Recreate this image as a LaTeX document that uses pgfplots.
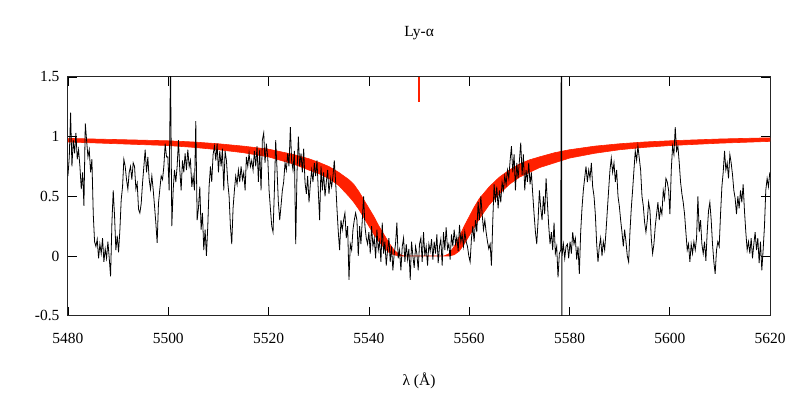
\documentclass[border=0pt]{standalone}
\usepackage{fontspec}
\setmainfont{Liberation Serif}
\usepackage{pgfplots}
\pgfplotsset{compat=1.18}
\definecolor{bandred}{RGB}{255,32,0}

\begin{document}
\begin{tikzpicture}
\begin{axis}[
  name=ax,
  scale only axis, width=703pt, height=239pt,
  xmin=5480, xmax=5620, ymin=-0.5, ymax=1.5,
  xtick={5480,5500,5520,5540,5560,5580,5600,5620},
  xticklabels={5480,5500,5520,5540,5560,5580,5600,5620},
  ytick={-0.5,0,0.5,1,1.5},
  yticklabels={-0.5,0,0.5,1,1.5},
  xtick pos=both, ytick pos=both,
  tick align=inside, major tick length=9pt,
  tick style={black, line width=0.8pt},
  axis line style={black!85, line width=1pt},
  tick label style={font=\fontsize{15.5}{18}\selectfont},
  xticklabel style={yshift=-14pt},
  yticklabel style={xshift=-5pt},
  title={Ly-α},
  title style={at={(0.5,1)}, anchor=center, yshift=38pt, font=\fontsize{15.5}{18}\selectfont},
  xlabel={λ (Å)},
  xlabel style={at={(axis description cs:0.5,0)}, anchor=center, yshift=-65pt, font=\fontsize{15.5}{18}\selectfont},
]
% fitted absorption profile, upper edge then lower edge
\addplot[fill=bandred, draw=bandred, line width=0.6pt] coordinates {
  (5480,0.985)(5490,0.975)(5500,0.965)(5505,0.955)(5510,0.94)(5515,0.92)
  (5520,0.895)(5525,0.85)(5528,0.815)(5530,0.785)(5532,0.75)(5534,0.70)
  (5536,0.64)(5537,0.60)(5538,0.54)(5539,0.47)(5540,0.40)(5541,0.33)
  (5542,0.25)(5543,0.18)(5544,0.11)(5545,0.05)(5546,0.015)(5547,0)
  (5555,0)(5556,0.02)(5557,0.08)(5558,0.16)(5559,0.25)(5560,0.33)
  (5561,0.41)(5562,0.48)(5563,0.53)(5564,0.58)(5566,0.66)(5568,0.72)
  (5570,0.77)(5572,0.805)(5574,0.83)(5577,0.865)(5580,0.89)(5585,0.92)
  (5590,0.94)(5595,0.955)(5600,0.965)(5610,0.98)(5620,0.99)
  (5620,0.96)(5610,0.945)(5600,0.925)(5595,0.91)(5590,0.89)(5585,0.86)
  (5580,0.82)(5577,0.78)(5574,0.74)(5572,0.70)(5570,0.66)(5568,0.60)
  (5566,0.52)(5564,0.43)(5563,0.37)(5562,0.31)(5561,0.24)(5560,0.17)
  (5559,0.10)(5558,0.04)(5557,0.01)(5556,0)(5546,0)(5545,0.01)
  (5544,0.03)(5543,0.07)(5542,0.12)(5541,0.18)(5540,0.25)(5539,0.32)
  (5538,0.39)(5537,0.45)(5536,0.50)(5534,0.59)(5532,0.65)(5530,0.69)
  (5528,0.72)(5525,0.77)(5520,0.83)(5515,0.865)(5510,0.89)(5505,0.91)
  (5500,0.925)(5490,0.94)(5480,0.955)};
% observed spectrum
\addplot[black, line width=0.8pt] coordinates {
(5480.00,0.67)(5480.27,0.83)(5480.53,1.20)(5480.80,0.75)(5481.06,0.97)(5481.33,0.86)(5481.59,1.03)(5481.86,0.81)(5482.12,0.89)(5482.39,0.75)
(5482.66,0.56)(5482.93,0.70)(5483.19,0.42)(5483.46,1.11)(5483.72,0.97)(5483.99,0.83)(5484.25,0.89)(5484.52,0.70)(5484.78,0.81)(5485.05,0.35)
(5485.31,0.12)(5485.58,0.08)(5485.84,0.14)(5486.11,-0.02)(5486.37,0.10)(5486.64,0.02)(5486.90,0.15)(5487.17,-0.05)(5487.43,0.06)(5487.70,-0.02)
(5487.97,0.12)(5488.24,-0.02)(5488.50,-0.17)(5488.77,0.28)(5489.03,0.55)(5489.30,0.33)(5489.56,0.05)(5489.83,0.17)(5490.09,0.03)(5490.36,0.22)
(5490.62,0.47)(5490.89,0.58)(5491.15,0.81)(5491.42,0.75)(5491.68,0.64)(5491.95,0.56)(5492.21,0.70)(5492.48,0.75)(5492.74,0.64)(5493.01,0.78)
(5493.28,0.75)(5493.55,0.56)(5493.81,0.61)(5494.08,0.39)(5494.34,0.36)(5494.61,0.44)(5494.87,0.61)(5495.14,0.75)(5495.40,0.89)(5495.67,0.70)
(5495.93,0.83)(5496.20,0.64)(5496.46,0.56)(5496.73,0.67)(5496.99,0.56)(5497.26,0.42)(5497.52,0.28)(5497.79,0.11)(5498.05,0.44)(5498.32,0.56)
(5498.59,0.67)(5498.86,0.64)(5499.12,0.75)(5499.39,0.94)(5499.65,0.83)(5499.92,0.83)(5500.18,0.55)(5500.45,1.60)(5500.71,0.25)(5500.98,0.55)
(5501.24,0.72)(5501.51,0.62)(5501.77,0.75)(5502.04,0.97)(5502.30,0.72)(5502.57,0.55)(5502.83,0.80)(5503.10,0.70)(5503.36,0.86)(5503.63,0.72)
(5503.90,0.89)(5504.17,0.75)(5504.43,0.80)(5504.70,0.58)(5504.96,0.67)(5505.23,0.55)(5505.49,1.13)(5505.76,0.30)(5506.02,0.40)(5506.29,0.58)
(5506.55,0.22)(5506.82,0.36)(5507.08,0.05)(5507.35,0.22)(5507.61,0.00)(5507.88,0.25)(5508.14,0.58)(5508.41,0.75)(5508.67,0.62)(5508.94,0.85)
(5509.21,0.92)(5509.48,0.80)(5509.74,0.94)(5510.01,0.70)(5510.27,0.88)(5510.54,0.75)(5510.80,0.90)(5511.07,0.55)(5511.33,0.88)(5511.60,0.80)
(5511.86,0.62)(5512.13,0.50)(5512.39,0.25)(5512.66,0.10)(5512.92,0.40)(5513.19,0.55)(5513.45,0.67)(5513.72,0.60)(5513.98,0.72)(5514.25,0.62)
(5514.52,0.75)(5514.79,0.64)(5515.05,0.70)(5515.32,0.55)(5515.58,0.83)(5515.85,0.75)(5516.11,0.86)(5516.38,0.75)(5516.64,0.80)(5516.91,0.72)
(5517.17,0.88)(5517.44,0.75)(5517.70,0.92)(5517.97,0.62)(5518.23,0.89)(5518.50,0.55)(5518.76,0.97)(5519.03,1.03)(5519.29,0.78)(5519.56,0.94)
(5519.83,0.83)(5520.10,0.55)(5520.36,0.40)(5520.63,0.25)(5520.89,0.20)(5521.16,0.55)(5521.42,0.97)(5521.69,0.72)(5521.95,0.45)(5522.22,0.30)
(5522.48,0.42)(5522.75,0.55)(5523.01,0.62)(5523.28,0.78)(5523.54,0.72)(5523.81,0.86)(5524.07,0.75)(5524.34,1.08)(5524.60,0.80)(5524.87,0.72)
(5525.14,0.88)(5525.41,0.10)(5525.67,0.70)(5525.94,1.00)(5526.20,0.75)(5526.47,0.86)(5526.73,0.70)(5527.00,0.90)(5527.26,0.62)(5527.53,0.52)
(5527.79,0.67)(5528.06,0.45)(5528.32,0.60)(5528.59,0.72)(5528.85,0.62)(5529.12,0.78)(5529.38,0.67)(5529.65,0.80)(5529.91,0.55)(5530.18,0.30)
(5530.45,0.75)(5530.72,0.55)(5530.98,0.70)(5531.25,0.50)(5531.51,0.62)(5531.78,0.72)(5532.04,0.52)(5532.31,0.65)(5532.57,0.58)(5532.84,0.67)
(5533.10,0.80)(5533.37,0.62)(5533.63,0.40)(5533.90,0.20)(5534.16,0.05)(5534.43,0.30)(5534.69,0.22)(5534.96,0.30)(5535.22,0.36)(5535.49,0.15)
(5535.76,0.25)(5536.03,-0.20)(5536.29,0.10)(5536.56,0.05)(5536.82,0.22)(5537.09,0.30)(5537.35,0.36)(5537.62,0.30)(5537.88,0.00)(5538.15,0.25)
(5538.41,0.10)(5538.68,0.30)(5538.94,0.50)(5539.21,0.25)(5539.47,0.15)(5539.74,0.10)(5540.00,0.20)(5540.27,0.02)(5540.53,0.25)(5540.80,0.08)
(5541.07,0.15)(5541.34,-0.02)(5541.60,0.22)(5541.87,0.05)(5542.13,0.12)(5542.40,-0.05)(5542.66,0.28)(5542.93,0.02)(5543.19,0.12)(5543.46,-0.08)
(5543.72,0.05)(5543.99,0.15)(5544.25,-0.05)(5544.52,0.08)(5544.78,-0.12)(5545.05,0.02)(5545.31,0.10)(5545.58,0.28)(5545.84,-0.02)(5546.11,0.05)
(5546.38,-0.12)(5546.65,0.08)(5546.91,0.15)(5547.18,-0.05)(5547.44,0.10)(5547.71,-0.03)(5547.97,0.06)(5548.24,-0.20)(5548.50,0.12)(5548.77,0.00)
(5549.03,-0.10)(5549.30,0.08)(5549.56,0.02)(5549.83,-0.12)(5550.09,0.10)(5550.36,0.15)(5550.62,-0.05)(5550.89,0.20)(5551.15,0.00)(5551.42,0.08)
(5551.69,-0.08)(5551.96,0.10)(5552.22,0.04)(5552.49,0.14)(5552.75,-0.03)(5553.02,0.12)(5553.28,0.02)(5553.55,0.18)(5553.81,-0.06)(5554.08,0.08)
(5554.34,0.14)(5554.61,-0.08)(5554.87,0.20)(5555.14,0.05)(5555.40,0.24)(5555.67,0.06)(5555.93,0.10)(5556.20,-0.03)(5556.46,0.18)(5556.73,0.08)
(5557.00,0.22)(5557.27,0.10)(5557.53,0.16)(5557.80,0.04)(5558.06,0.26)(5558.33,0.12)(5558.59,0.18)(5558.86,0.08)(5559.12,0.20)(5559.39,0.12)
(5559.65,0.08)(5559.92,0.00)(5560.18,-0.05)(5560.45,0.15)(5560.71,0.25)(5560.98,0.12)(5561.24,0.30)(5561.51,0.20)(5561.77,0.45)(5562.04,0.30)
(5562.31,0.50)(5562.58,0.35)(5562.84,0.22)(5563.11,0.30)(5563.37,0.20)(5563.64,0.12)(5563.90,0.06)(5564.17,0.10)(5564.43,-0.08)(5564.70,0.30)
(5564.96,0.60)(5565.23,0.45)(5565.49,0.58)(5565.76,0.40)(5566.02,0.55)(5566.29,0.45)(5566.55,0.62)(5566.82,0.55)(5567.08,0.67)(5567.35,0.60)
(5567.62,0.72)(5567.89,0.65)(5568.15,0.80)(5568.42,0.92)(5568.68,0.70)(5568.95,0.85)(5569.21,0.55)(5569.48,0.78)(5569.74,0.65)(5570.01,0.80)
(5570.27,0.95)(5570.54,0.68)(5570.80,0.85)(5571.07,0.55)(5571.33,0.72)(5571.60,0.62)(5571.86,0.78)(5572.13,0.60)(5572.39,0.70)(5572.66,0.52)
(5572.93,0.35)(5573.20,0.20)(5573.46,0.10)(5573.73,0.30)(5573.99,0.55)(5574.26,0.40)(5574.52,0.30)(5574.79,0.50)(5575.05,0.35)(5575.32,0.65)
(5575.58,0.45)(5575.85,0.25)(5576.11,0.10)(5576.38,0.20)(5576.64,0.05)(5576.91,0.28)(5577.17,0.02)(5577.44,0.08)(5577.70,-0.18)(5577.97,0.02)
(5578.24,0.05)(5578.42,3.00)(5578.46,-2.00)(5578.51,0.00)(5578.77,0.10)(5579.04,-0.02)(5579.30,0.08)(5579.57,0.10)(5579.83,-0.02)(5580.10,0.12)(5580.36,0.02)
(5580.63,0.20)(5580.89,0.10)(5581.16,0.15)(5581.42,-0.03)(5581.69,0.08)(5581.95,-0.15)(5582.22,0.20)(5582.48,0.40)(5582.75,0.55)(5583.01,0.65)(5583.28,0.75)
(5583.55,0.62)(5583.82,0.72)(5584.08,0.65)(5584.35,0.78)(5584.61,0.58)(5584.88,0.50)(5585.14,0.35)(5585.41,0.10)(5585.67,-0.05)(5585.94,0.08)
(5586.20,0.15)(5586.47,0.00)(5586.73,0.12)(5587.00,0.05)(5587.26,0.20)(5587.53,0.38)(5587.79,0.55)(5588.06,0.72)(5588.32,0.82)(5588.59,0.70)
(5588.86,0.78)(5589.13,0.62)(5589.39,0.72)(5589.66,0.50)(5589.92,0.42)(5590.19,0.30)(5590.45,0.20)(5590.72,0.08)(5590.98,0.22)(5591.25,0.12)
(5591.51,0.00)(5591.78,-0.05)(5592.04,0.20)(5592.31,0.40)(5592.57,0.55)(5592.84,0.72)(5593.10,0.88)(5593.37,0.80)(5593.63,0.92)(5593.90,0.82)
(5594.17,0.72)(5594.44,0.50)(5594.70,0.42)(5594.97,0.28)(5595.23,0.20)(5595.50,0.30)(5595.76,0.45)(5596.03,0.38)(5596.29,0.15)(5596.56,0.02)
(5596.82,0.10)(5597.09,0.25)(5597.35,0.35)(5597.62,0.45)(5597.88,0.30)(5598.15,0.40)(5598.41,0.35)(5598.68,0.55)(5598.94,0.48)(5599.21,0.65)
(5599.48,0.62)(5599.75,0.55)(5600.01,0.35)(5600.28,0.72)(5600.54,0.92)(5600.81,0.85)(5601.07,1.08)(5601.34,0.88)(5601.60,0.92)(5601.87,0.78)
(5602.13,0.62)(5602.40,0.52)(5602.66,0.45)(5602.93,0.35)(5603.19,0.20)(5603.46,0.05)(5603.72,0.10)(5603.99,-0.05)(5604.25,0.10)(5604.52,0.02)
(5604.79,0.12)(5605.06,0.05)(5605.32,0.15)(5605.59,0.50)(5605.85,0.20)(5606.12,0.30)(5606.38,0.10)(5606.65,0.02)(5606.91,0.12)(5607.18,-0.04)
(5607.44,0.20)(5607.71,0.38)(5607.97,0.45)(5608.24,0.30)(5608.50,0.10)(5608.77,-0.05)(5609.03,-0.15)(5609.30,0.05)(5609.56,0.12)(5609.83,0.08)
(5610.10,0.35)(5610.37,0.58)(5610.63,0.70)(5610.90,0.88)(5611.16,0.72)(5611.43,0.78)(5611.69,0.65)(5611.96,0.85)(5612.22,0.78)(5612.49,0.68)
(5612.75,0.55)(5613.02,0.48)(5613.28,0.35)(5613.55,0.50)(5613.81,0.40)(5614.08,0.55)(5614.34,0.45)(5614.61,0.60)(5614.87,0.38)(5615.14,0.20)
(5615.41,0.05)(5615.68,0.12)(5615.94,0.02)(5616.21,0.15)(5616.47,-0.02)(5616.74,0.10)(5617.00,0.20)(5617.27,0.05)(5617.53,0.15)(5617.80,-0.06)
(5618.06,0.12)(5618.33,-0.12)(5618.59,0.05)(5618.86,0.25)(5619.12,0.55)(5619.39,0.65)(5619.65,0.58)(5619.92,0.70)};
% line centre marker
\addplot[draw=bandred, line width=1.2pt] coordinates {(5550,1.29) (5550,1.5)};
\end{axis}
\path ([xshift=-68pt,yshift=-79pt]ax.south west) rectangle ([xshift=18pt,yshift=77pt]ax.north east);
\end{tikzpicture}
\end{document}
